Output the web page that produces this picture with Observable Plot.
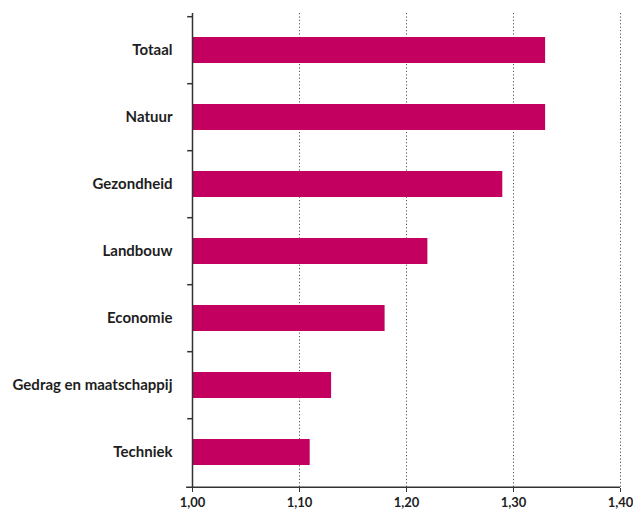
<!DOCTYPE html>
<html>
<head>
<meta charset="utf-8">
<script src="https://cdn.jsdelivr.net/npm/d3@7"></script>
<script src="https://cdn.jsdelivr.net/npm/@observablehq/plot@0.6"></script>
<style>
  body { margin: 0; background: #fff; }
  #chart { width: 633px; height: 511px; }
</style>
</head>
<body>
<div id="chart"></div>
<script>
const categories = ["Totaal", "Natuur", "Gezondheid", "Landbouw", "Economie", "Gedrag en maatschappij", "Techniek"];
const values = [1.33, 1.33, 1.29, 1.22, 1.18, 1.13, 1.11];
const xTicks = [1.0, 1.1, 1.2, 1.3, 1.4];
const xTickLabels = ["1,00", "1,10", "1,20", "1,30", "1,40"];
const gridTicks = [1.1, 1.2, 1.3, 1.4];

const data = categories.map((c, i) => ({category: c, value: values[i]}));
const font = "Lato, 'Noto Sans', sans-serif";
const ink = "#1e1e1e";

const chart = Plot.plot({
  width: 633,
  height: 511,
  marginTop: 13,
  marginBottom: 23,
  marginLeft: 192,
  marginRight: 13,
  style: {fontFamily: font, background: "#fff"},
  x: {domain: [1.0, 1.4]},
  y: {domain: categories, paddingInner: 0.615, paddingOuter: 0.32},
  marks: [
    Plot.ruleX(gridTicks, {stroke: "#555", strokeDasharray: "1.2,2.2", strokeWidth: 1}),
    Plot.barX(data, {y: "category", x1: 1.0, x2: "value", fill: "#c3005f"}),
    Plot.ruleX([1.0], {stroke: "#333", strokeWidth: 1.5}),
    Plot.ruleY(categories, {y: d => d, x1: 0.9955, x2: 1.0, dy: -33.8, stroke: "#333", strokeWidth: 1.5}),
    Plot.ruleY([categories[categories.length - 1]], {y: d => d, x1: 0.9945, x2: 1.4, dy: 34.7, stroke: "#333", strokeWidth: 1.5}),
    Plot.axisY({tickSize: 0, tickPadding: 20, fontSize: 15, fontWeight: "bold", fill: ink, label: null}),
    Plot.axisX(xTicks, {tickSize: 4, tickPadding: 5, stroke: "#333", fontSize: 13, fontWeight: "bold", fill: ink,
      tickFormat: d => xTickLabels[xTicks.indexOf(d)], label: null})
  ]
});
document.getElementById("chart").append(chart);
</script>
</body>
</html>
